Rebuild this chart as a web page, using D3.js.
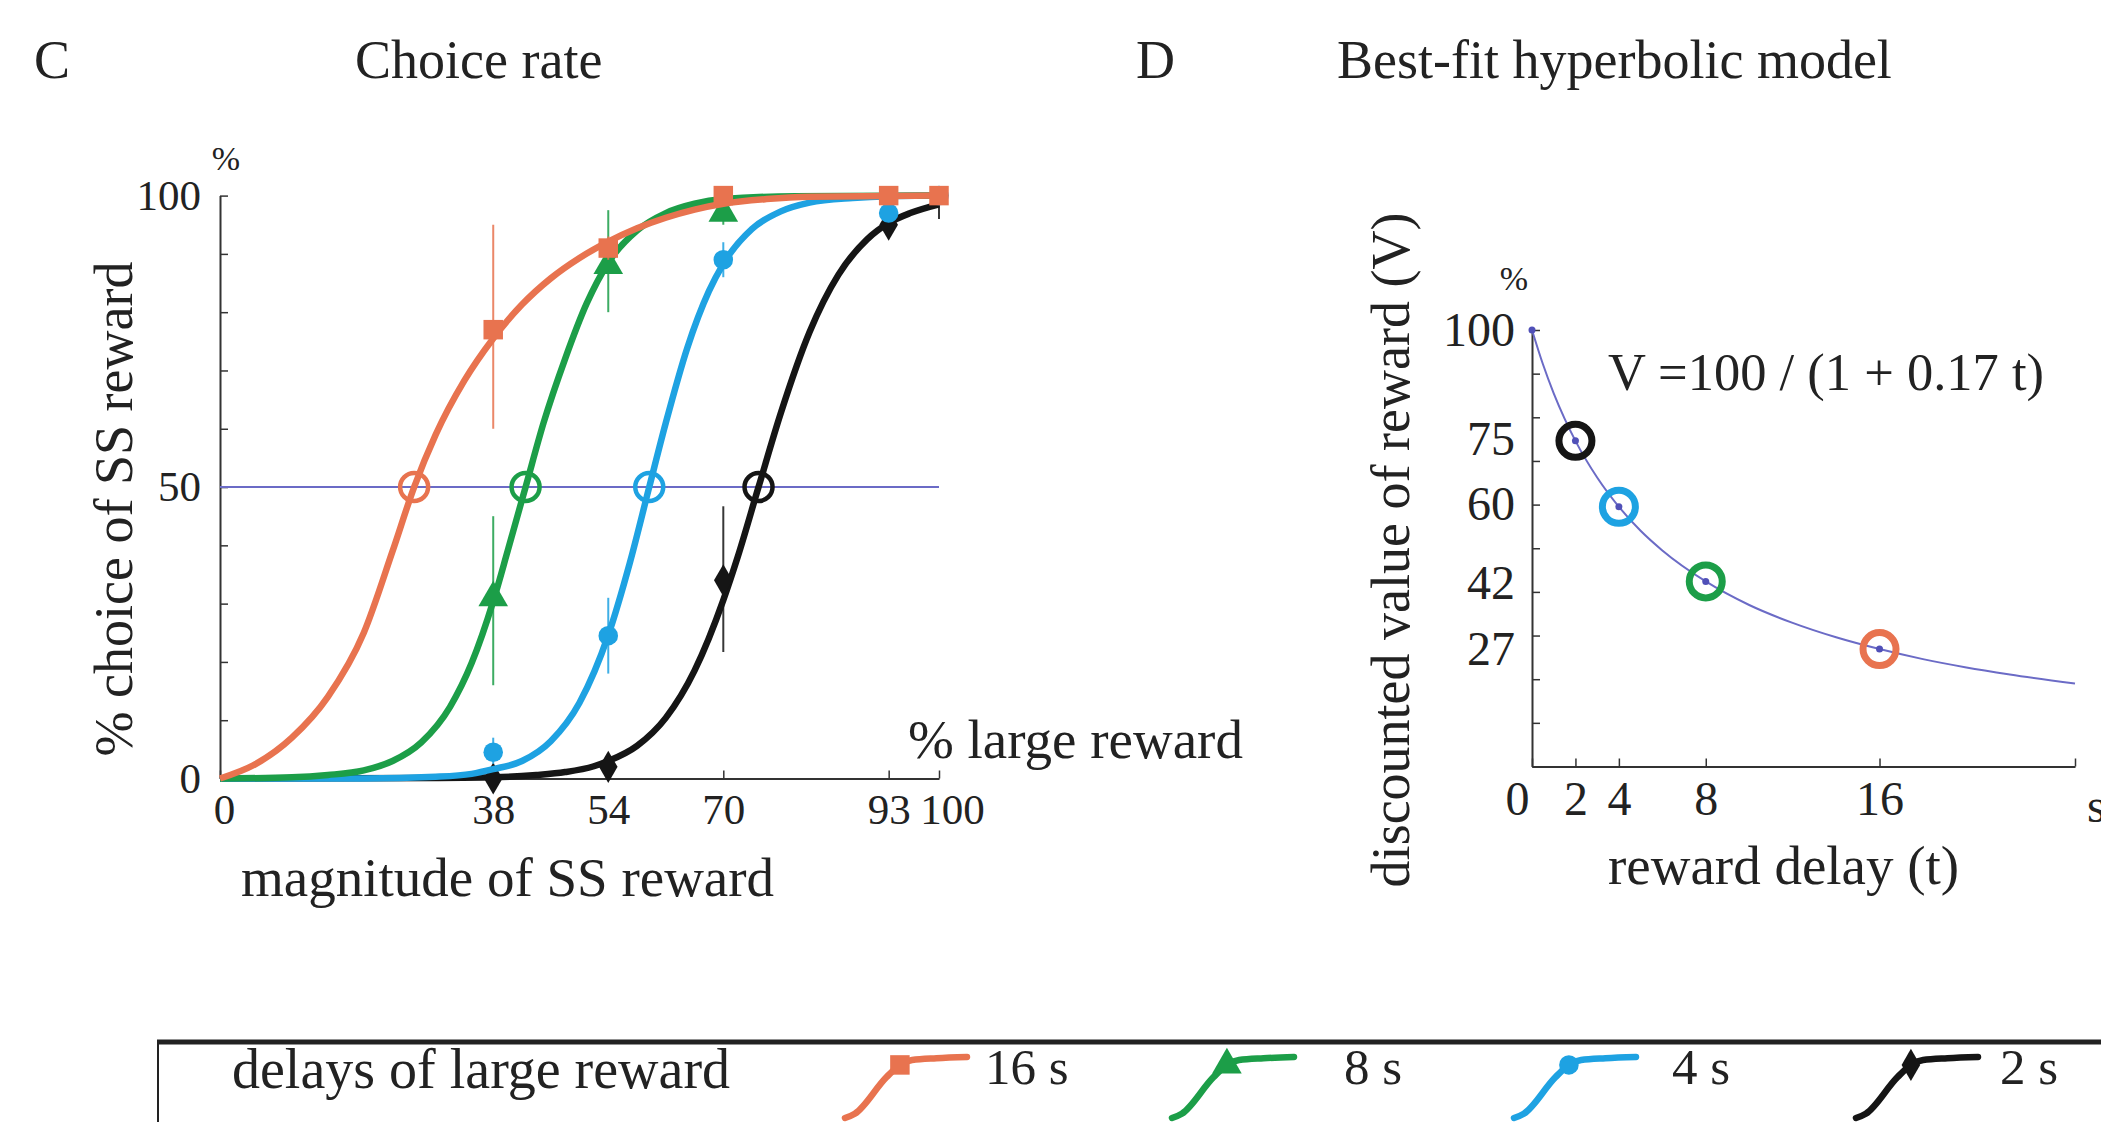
<!DOCTYPE html>
<html><head><meta charset="utf-8">
<script src="https://cdn.jsdelivr.net/npm/d3@7"></script>
<style>
html,body{margin:0;padding:0;background:#fff;overflow:hidden;}
svg text{font-family:"Liberation Serif","Times New Roman",serif;fill:#222;}
</style></head><body>
<svg id="chart" width="2101" height="1122"></svg>
<script>
// ---------------- DATA ----------------
const seriesLabels = ["16 s", "8 s", "4 s", "2 s"];
const delaysLarge = [16, 8, 4, 2];

// panel C: measured points (magnitude of SS reward, % large reward); null = hidden under other marks
const magnitudes = [38, 54, 70, 93, 100];
const orangeY  = [77, 91, 100, 100, 100];
const orangeLo = [60, 89, 99, 99, 99];
const orangeHi = [95, 93, 100, 100, 100];
const greenY   = [31, 88, 97, null, null];
const greenLo  = [16, 80, 95, 99, 99];
const greenHi  = [45, 97.5, 99, 100, 100];
const blueY    = [4.5, 24.5, 89, 97, 100];
const blueLo   = [2.5, 18, 86, 96, 99];
const blueHi   = [7, 31, 92, 98, 100];
const blackY   = [0, 2, 34, 95, null];
const blackLo  = [0, 1, 21.7, 93, 96];
const blackHi  = [0, 3, 46.7, 97, 100];

// panel C: fitted choice curves
const orangeCurveX = [0, 5, 10, 15, 20, 24, 27, 30, 34, 38, 42, 46, 50, 54, 58, 62, 66, 70, 76, 82, 100];
const orangeCurveY = [0, 2.5, 7, 14, 25, 39, 50, 59, 68.3, 75.5, 81.3, 85.8, 89.3, 92.1, 94.4, 96.2, 97.6, 98.6, 99.4, 99.8, 100];
const greenCurveX  = [0, 10, 15, 20, 24, 28, 32, 35, 38, 40, 42.5, 45, 48, 51, 54, 58, 62, 66, 70, 80, 100];
const greenCurveY  = [0, 0.2, 0.6, 1.4, 3, 6.2, 12.3, 19.8, 30.4, 39, 50, 61, 72, 81.5, 88.5, 94, 97, 98.6, 99.4, 99.9, 100];
const blueCurveX   = [0, 20, 30, 35, 38, 42, 46, 50, 54, 57, 59.7, 62, 65, 68, 70, 74, 78, 82, 88, 93, 100];
const blueCurveY   = [0, 0, 0.3, 0.8, 1.6, 3, 6.4, 13, 24.6, 37, 50, 61, 73.9, 83.6, 88.3, 94.3, 97.3, 98.8, 99.6, 99.9, 100];
const blackCurveX  = [0, 30, 38, 44, 48, 52, 54, 58, 62, 66, 70, 72, 74.9, 78, 82, 86, 90, 93, 96, 100];
const blackCurveY  = [0, 0.1, 0.2, 0.6, 1.1, 2.1, 3, 5.6, 10.4, 18.5, 30.6, 38, 50, 62.7, 76.6, 86.4, 92.5, 95.3, 97, 98.5];

// indifference points (50 % choice)
const indifference = [27, 42.5, 59.7, 74.9];

// panel C ticks
const xTicksC = [0, 38, 54, 70, 93, 100];
const yTicksC = [0, 10, 20, 30, 40, 50, 60, 70, 80, 90, 100];
const yLabelsC = [0, 50, 100];

// panel D: hyperbolic discount curve
const dCurveT = [0, 0.5, 1, 1.5, 2, 3, 4, 5, 6, 8, 10, 12, 14, 16, 18, 20, 22, 25];
const dCurveV = [100, 92.2, 85.5, 79.7, 74.6, 66.2, 59.5, 54, 49.5, 42.4, 37, 32.9, 29.6, 26.9, 24.6, 22.7, 21.1, 19];
const dDotT = [0, 2, 4, 8, 16];
const dDotV = [100, 74.6, 59.5, 42.4, 26.9];
const xTicksD = [0, 2, 4, 8, 16, 25];
const xLabelsD = [0, 2, 4, 8, 16];
const yTicksD = [0, 10, 20, 30, 40, 50, 60, 70, 80, 90, 100];
const yLabelsD = [100, 75, 60, 42, 27];

// ---------------- STYLE ----------------
const colors = ["#e8734f", "#1c9e48", "#1ea2e2", "#151515"];
const symbols = [d3.symbolSquare, d3.symbolTriangle, d3.symbolCircle, d3.symbolDiamond];
const symbolSizes = [380, 380, 300, 300];
const purple = "#6b6bc6";
const axisColor = "#333";

const svg = d3.select("#chart");

// scales
const xC = d3.scaleLinear().domain([0, 100]).range([220, 939]);
const yC = d3.scaleLinear().domain([0, 100]).range([778.5, 195.6]);
const xD = d3.scaleLinear().domain([0, 25]).range([1532, 2075]);
const yD = d3.scaleLinear().domain([0, 100]).range([766.5, 330]);

function styleAxis(g, fs) {
  g.attr("font-family", null).attr("font-size", null);
  g.selectAll("text").attr("font-size", fs).attr("fill", "#222");
  g.select(".domain").attr("stroke", axisColor).attr("stroke-width", 2);
  g.selectAll(".tick line").attr("stroke", axisColor).attr("stroke-width", 1.5);
}

// titles
svg.append("text").attr("x", 34).attr("y", 78).attr("font-size", 54).text("C");
svg.append("text").attr("x", 355).attr("y", 78).attr("font-size", 54).text("Choice rate");
svg.append("text").attr("x", 1136).attr("y", 78).attr("font-size", 54).text("D");
svg.append("text").attr("x", 1337).attr("y", 78).attr("font-size", 54).text("Best-fit hyperbolic model");

// ---------------- PANEL C ----------------
const gC = svg.append("g");
gC.append("g").attr("transform", `translate(${xC(0)},0)`)
  .call(d3.axisLeft(yC).tickValues(yTicksC).tickSize(-8).tickSizeOuter(0).tickPadding(19)
    .tickFormat(d => yLabelsC.includes(d) ? d : ""))
  .call(g => styleAxis(g, 43));
gC.append("g").attr("transform", `translate(0,${yC(0)})`)
  .call(d3.axisBottom(xC).tickValues(xTicksC).tickSize(-8).tickSizeOuter(0).tickPadding(15))
  .call(g => {
    styleAxis(g, 43);
    g.selectAll(".tick text").filter(d => d === 100).attr("dx", 13);
    g.selectAll(".tick text").filter(d => d === 0).attr("dx", 4);
  });

// 50% line
gC.append("line").attr("x1", xC(0)).attr("x2", xC(100)).attr("y1", yC(50)).attr("y2", yC(50))
  .attr("stroke", purple).attr("stroke-width", 2);

gC.append("text").attr("x", 226).attr("y", 170).attr("text-anchor", "middle").attr("font-size", 34).text("%");
gC.append("text").attr("transform", `translate(132,509) rotate(-90)`).attr("text-anchor", "middle")
  .attr("font-size", 54).text("% choice of SS reward");
gC.append("text").attr("x", 908).attr("y", 758).attr("font-size", 55).text("% large reward");
gC.append("text").attr("x", 241).attr("y", 896).attr("font-size", 55).text("magnitude of SS reward");

const curveXs = [orangeCurveX, greenCurveX, blueCurveX, blackCurveX];
const curveYs = [orangeCurveY, greenCurveY, blueCurveY, blackCurveY];
const ptYs = [orangeY, greenY, blueY, blackY];
const ptLo = [orangeLo, greenLo, blueLo, blackLo];
const ptHi = [orangeHi, greenHi, blueHi, blackHi];

const series = seriesLabels.map((lab, i) => ({
  label: lab, color: colors[i], symbol: symbols[i], size: symbolSizes[i],
  curve: curveXs[i].map((x, j) => [x, curveYs[i][j]]),
  points: magnitudes.map((m, j) => ({x: m, y: ptYs[i][j], lo: ptLo[i][j], hi: ptHi[i][j]})),
  ind: indifference[i]
}));

const lineC = d3.line().x(d => xC(d[0])).y(d => yC(d[1])).curve(d3.curveMonotoneX);
const drawOrder = [3, 2, 1, 0];
drawOrder.forEach(i => {
  const s = series[i];
  const g = gC.append("g");
  g.selectAll(".err").data(s.points).join("line")
    .attr("x1", d => xC(d.x)).attr("x2", d => xC(d.x))
    .attr("y1", d => yC(d.lo)).attr("y2", d => yC(d.hi))
    .attr("stroke", s.color).attr("stroke-width", 2).attr("opacity", 0.85);
  g.append("path").datum(s.curve).attr("d", lineC).attr("fill", "none")
    .attr("stroke", s.color).attr("stroke-width", 6.5);
  g.selectAll(".pt").data(s.points.filter(d => d.y !== null)).join("path")
    .attr("transform", d => `translate(${xC(d.x)},${yC(d.y)})`)
    .attr("d", d3.symbol().type(s.symbol).size(s.size))
    .attr("fill", s.color);
});
// indifference circles
gC.selectAll(".ind").data(series).join("circle")
  .attr("cx", d => xC(d.ind)).attr("cy", yC(50)).attr("r", 14)
  .attr("fill", "none").attr("stroke", d => d.color).attr("stroke-width", 4.5);

// ---------------- PANEL D ----------------
const gD = svg.append("g");
gD.append("g").attr("transform", `translate(${xD(0)},0)`)
  .call(d3.axisLeft(yD).tickValues(yTicksD).tickSize(-8).tickSizeOuter(0).tickFormat(""))
  .call(g => styleAxis(g, 48));
gD.append("g").attr("transform", `translate(${xD(0)},0)`)
  .call(d3.axisLeft(yD).tickValues(yLabelsD).tickSize(0).tickPadding(17))
  .call(g => { styleAxis(g, 48); g.select(".domain").remove(); });
gD.append("g").attr("transform", `translate(0,${yD(0)})`)
  .call(d3.axisBottom(xD).tickValues(xTicksD).tickSize(-8).tickSizeOuter(0).tickPadding(14)
    .tickFormat(d => xLabelsD.includes(d) ? d : ""))
  .call(g => { styleAxis(g, 48); g.selectAll(".tick text").filter(d => d === 0).attr("dx", -15); });

gD.append("text").attr("x", 2087).attr("y", 822).attr("font-size", 48).text("s");
gD.append("text").attr("x", 1514).attr("y", 290).attr("text-anchor", "middle").attr("font-size", 34).text("%");
gD.append("text").attr("transform", `translate(1409,550) rotate(-90)`).attr("text-anchor", "middle")
  .attr("font-size", 54).text("discounted value of reward (V)");
gD.append("text").attr("x", 1608).attr("y", 884).attr("font-size", 55).text("reward delay (t)");
gD.append("text").attr("x", 1608).attr("y", 390).attr("font-size", 52.5).text("V =100 / (1 + 0.17 t)");

const lineD = d3.line().x(d => xD(d[0])).y(d => yD(d[1])).curve(d3.curveMonotoneX);
gD.append("path").datum(dCurveT.map((t, j) => [t, dCurveV[j]])).attr("d", lineD)
  .attr("fill", "none").attr("stroke", purple).attr("stroke-width", 2);
const dDots = dDotT.map((t, j) => ({t: t, v: dDotV[j]}));
gD.selectAll(".ring").data(dDots.slice(1)).join("circle")
  .attr("cx", d => xD(d.t)).attr("cy", d => yD(d.v)).attr("r", 16.5)
  .attr("fill", "none").attr("stroke", d => colors[delaysLarge.indexOf(d.t)]).attr("stroke-width", 7);
gD.selectAll(".dot").data(dDots).join("circle")
  .attr("cx", d => xD(d.t)).attr("cy", d => yD(d.v)).attr("r", 3.5).attr("fill", "#5050b8");

// ---------------- LEGEND ----------------
const gL = svg.append("g");
gL.append("line").attr("x1", 157).attr("x2", 2110).attr("y1", 1042).attr("y2", 1042)
  .attr("stroke", "#222").attr("stroke-width", 5);
gL.append("line").attr("x1", 158).attr("x2", 158).attr("y1", 1040).attr("y2", 1130)
  .attr("stroke", "#222").attr("stroke-width", 2);
gL.append("text").attr("x", 232).attr("y", 1088).attr("font-size", 56).text("delays of large reward");

const glyphU = [0, 0.08, 0.34, 0.45, 0.55, 0.75, 1];
const glyphV = [1, 0.93, 0.33, 0.13, 0.05, 0.02, 0];
const legendX = [845, 1172, 1514, 1856];
const legendTextX = [985, 1344, 1672, 2000];
const gu = d3.scaleLinear().domain([0, 1]).range([0, 122]);
const gv = d3.scaleLinear().domain([0, 1]).range([1057, 1118]);
const glyphLine = d3.line().x(d => gu(d[0])).y(d => gv(d[1])).curve(d3.curveMonotoneX);
series.forEach((s, i) => {
  const g = gL.append("g").attr("transform", `translate(${legendX[i]},0)`);
  g.append("path").datum(glyphU.map((u, j) => [u, glyphV[j]])).attr("d", glyphLine)
    .attr("fill", "none").attr("stroke", s.color).attr("stroke-width", 6.5).attr("stroke-linecap", "round");
  g.append("path").attr("transform", `translate(${gu(0.45)},${gv(0.13)})`)
    .attr("d", d3.symbol().type(s.symbol).size(s.size)).attr("fill", s.color);
  gL.append("text").attr("x", legendTextX[i]).attr("y", 1084).attr("font-size", 51).text(s.label);
});
</script>
</body></html>
